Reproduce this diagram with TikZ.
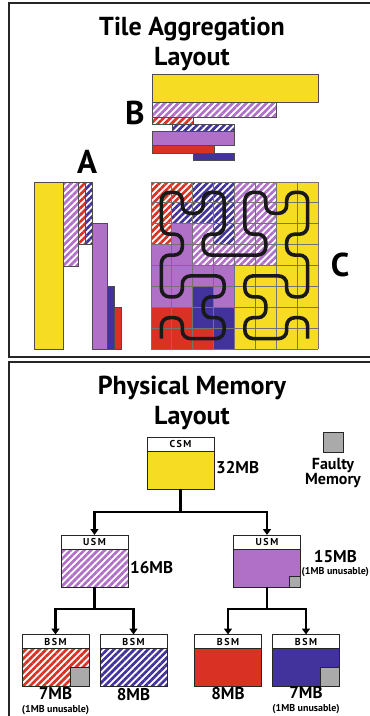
\documentclass[tikz,border=0pt]{standalone}
\usepackage{fontspec}
\setmainfont{PT Sans}
\usepackage{xcolor}
\usepackage{tikz}
\usetikzlibrary{arrows.meta,positioning,patterns.meta}

\definecolor{memyellow}{RGB}{246,220,34}
\definecolor{mempurple}{RGB}{176,112,200}
\definecolor{memred}{RGB}{217,49,35}
\definecolor{memblue}{RGB}{66,51,156}
\definecolor{memgray}{RGB}{170,170,170}

\begin{document}
\begin{tikzpicture}[
  x=1pt, y=-1pt,
  font=\bfseries,
  frame/.style  = {draw=black!85, line width=1.6pt},
  title/.style  = {font=\bfseries\fontsize{26}{30}\selectfont, align=center},
  letter/.style = {font=\bfseries\fontsize{33}{33}\selectfont, inner sep=0pt},
  bar/.style    = {draw=black!70, line width=0.9pt},
  yfill/.style  = {fill=memyellow},
  pfill/.style  = {fill=mempurple},
  rfill/.style  = {fill=memred},
  bfill/.style  = {fill=memblue},
  phatch/.style = {pattern={Lines[angle=45,distance=4.8pt,line width=2.7pt]},
                   pattern color=mempurple},
  rhatch/.style = {pattern={Lines[angle=45,distance=4.8pt,line width=2.7pt]},
                   pattern color=memred},
  bhatch/.style = {pattern={Lines[angle=45,distance=4.8pt,line width=2.7pt]},
                   pattern color=memblue},
  gridline/.style = {draw=black!55, line width=0.8pt},
  curve/.style  = {draw=black!90, line width=3.6pt, rounded corners=8pt},
  tag/.style    = {draw=black!85, line width=1pt, fill=white, outer sep=0pt,
                   minimum width=67pt, minimum height=14pt, inner sep=0pt,
                   font=\bfseries\fontsize{10}{10}\selectfont\addfontfeature{LetterSpace=15}},
  mem/.style    = {draw=black!85, line width=1pt, outer sep=0pt, inner sep=0pt,
                   minimum width=67pt, minimum height=38pt},
  fault/.style  = {draw=black!85, line width=1pt, fill=memgray, outer sep=0pt,
                   inner sep=0pt, minimum size=19pt},
  size/.style   = {font=\bfseries\fontsize{17}{15}\selectfont, align=center, inner sep=1pt},
  note/.style   = {font=\bfseries\fontsize{16}{15}\selectfont, align=center, inner sep=0pt},
  ar/.style     = {-{Triangle[length=6pt,width=8pt]}, line width=2.6pt},
]
\useasboundingbox (0,0) rectangle (370,716);

%% --- the two panels ---
\draw[frame] (9,3) rectangle (385,357);
\draw[frame] (9,362) rectangle (385,730);

\node[title] (agg-title) at (192,44) {Tile Aggregation\\Layout};
\node[title] (mem-title) at (192,403) {Physical Memory\\Layout};

%% --- B: tiles laid out row by row ---
\draw[bar, yfill]  (152,74)  rectangle (318,102);
\draw[bar, phatch] (152,102) rectangle (276,117);
\draw[bar, rhatch] (152,117) rectangle (193,124);
\draw[bar, bhatch] (172,124) rectangle (234,131);
\draw[bar, pfill]  (152,131) rectangle (234,145);
\draw[bar, rfill]  (152,145) rectangle (214,153);
\draw[bar, bfill]  (193,153) rectangle (234,160);
\node[letter] (lblB) at (135,113) {B};

%% --- A: tiles laid out column by column ---
\draw[bar, yfill]  (34,182)  rectangle (63,349);
\draw[bar, phatch] (63,182)  rectangle (78,266);
\draw[bar, rhatch] (78,182)  rectangle (85,244);
\draw[bar, bhatch] (85,182)  rectangle (92,244);
\draw[bar, pfill]  (92,223)  rectangle (107,349);
\draw[bar, bfill]  (107,286) rectangle (114,349);
\draw[bar, rfill]  (114,307) rectangle (121,349);
\node[letter] (lblA) at (87,162) {A};

%% --- C: tiles along a Hilbert curve ---
\foreach \row [count=\r from 0] in {
    {rhatch,rhatch,bhatch,bhatch,phatch,phatch,yfill,yfill},
    {rhatch,bhatch,bhatch,bhatch,phatch,phatch,yfill,yfill},
    {rhatch,pfill,phatch,bhatch,phatch,phatch,yfill,yfill},
    {pfill,pfill,phatch,phatch,phatch,phatch,yfill,yfill},
    {pfill,pfill,pfill,pfill,yfill,yfill,yfill,yfill},
    {pfill,pfill,bfill,pfill,yfill,yfill,yfill,yfill},
    {rfill,rfill,bfill,bfill,yfill,yfill,yfill,yfill},
    {rfill,rfill,rfill,bfill,yfill,yfill,yfill,yfill}}
  \foreach \c [count=\k from 0] in \row
    \path[\c] ({151+\k*20.875},{182+\r*20.875}) rectangle ++(20.875,20.875);
\foreach \i in {0,...,8} {
  \draw[gridline] ({151+\i*20.875},182) -- ({151+\i*20.875},349);
  \draw[gridline] (151,{182+\i*20.875}) -- (318,{182+\i*20.875});
}
\begin{scope}[x=20.875pt, y=-20.875pt, shift={(161.44pt,-192.44pt)}]
  \draw[curve] (0,7) -- (0,6) -- (1,6) -- (1,7) -- (2,7) -- (3,7) -- (3,6) -- (2,6)
    -- (2,5) -- (3,5) -- (3,4) -- (2,4) -- (1,4) -- (1,5) -- (0,5) -- (0,4)
    -- (0,3) -- (1,3) -- (1,2) -- (0,2) -- (0,1) -- (0,0) -- (1,0) -- (1,1)
    -- (2,1) -- (2,0) -- (3,0) -- (3,1) -- (3,2) -- (2,2) -- (2,3) -- (3,3)
    -- (4,3) -- (5,3) -- (5,2) -- (4,2) -- (4,1) -- (4,0) -- (5,0) -- (5,1)
    -- (6,1) -- (6,0) -- (7,0) -- (7,1) -- (7,2) -- (6,2) -- (6,3) -- (7,3)
    -- (7,4) -- (7,5) -- (6,5) -- (6,4) -- (5,4) -- (4,4) -- (4,5) -- (5,5)
    -- (5,6) -- (4,6) -- (4,7) -- (5,7) -- (6,7) -- (6,6) -- (7,6) -- (7,7);
\end{scope}
\node[letter] (lblC) at (340,265) {C};

%% --- physical memory tree ---
\node[tag] (csm-t) at (180.5,444) {CSM};
\node[mem, yfill, below=0pt of csm-t] (csm) {};
\node[size, right=1pt of csm, yshift=2pt] (csm-sz) {32MB};

\node[fault, minimum size=20pt] (key) at (333,442) {};
\node[note, below=6pt of key] (key-t) {Faulty\\Memory};

\node[tag] (usmL-t) at (94.5,542) {USM};
\node[mem, phatch, below=0pt of usmL-t] (usmL) {};
\node[size, right=1pt of usmL] (usmL-sz) {16MB};

\node[tag] (usmR-t) at (267,542) {USM};
\node[mem, pfill, below=0pt of usmR-t] (usmR) {};
\node[fault, minimum size=11pt, anchor=south east] (usmR-f) at (usmR.south east) {};
\node[size, right=0pt of usmR, yshift=4pt] (usmR-sz)
  {15MB\\[-3pt]{\fontsize{10}{10}\selectfont (1MB unusable)}};

\node[tag] (bsm1-t) at (55.5,641.5) {BSM};
\node[mem, rhatch, below=0pt of bsm1-t] (bsm1) {};
\node[fault, anchor=south east] (bsm1-f) at (bsm1.south east) {};
\node[size, below=0pt of bsm1] (bsm1-sz)
  {7MB\\[-2pt]{\fontsize{10}{10}\selectfont (1MB unusable)}};

\node[tag] (bsm2-t) at (133.5,641.5) {BSM};
\node[mem, bhatch, below=0pt of bsm2-t] (bsm2) {};
\node[size, below=1pt of bsm2] (bsm2-sz) {8MB};

\node[tag] (bsm3-t) at (228,641.5) {BSM};
\node[mem, rfill, below=0pt of bsm3-t] (bsm3) {};
\node[size, below=0pt of bsm3] (bsm3-sz) {8MB};

\node[tag] (bsm4-t) at (306,641.5) {BSM};
\node[mem, bfill, below=0pt of bsm4-t] (bsm4) {};
\node[fault, anchor=south east] (bsm4-f) at (bsm4.south east) {};
\node[size, below=-1pt of bsm4] (bsm4-sz)
  {7MB\\[-2pt]{\fontsize{10}{10}\selectfont (1MB unusable)}};

%% --- arrows ---
\draw[ar] (csm.south)  -- ++(0,23) -| (usmL-t.north);
\draw[ar] (csm.south)  -- ++(0,23) -| (usmR-t.north);
\draw[ar] (usmL.south) -- ++(0,22) -| (bsm1-t.north);
\draw[ar] (usmL.south) -- ++(0,22) -| (bsm2-t.north);
\draw[ar] (usmR.south) -- ++(0,22) -| (bsm3-t.north);
\draw[ar] (usmR.south) -- ++(0,22) -| (bsm4-t.north);
\end{tikzpicture}
\end{document}
